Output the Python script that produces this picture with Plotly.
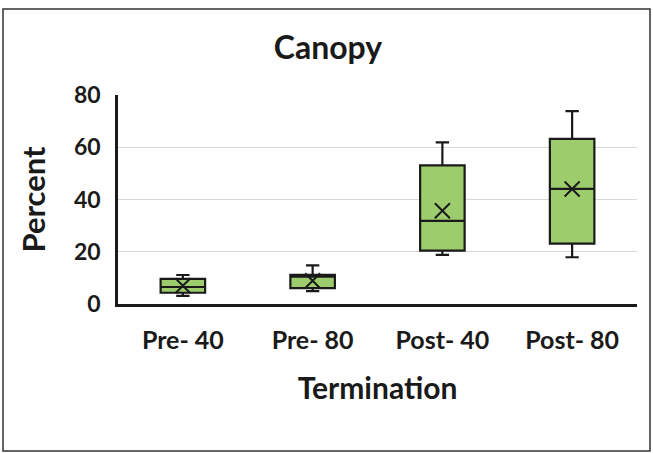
import plotly.graph_objects as go

categories = ["Pre- 40", "Pre- 80", "Post- 40", "Post- 80"]
q1 = [4.3, 6.1, 20.4, 23.1]
median = [6.5, 10.5, 31.8, 44.1]
q3 = [9.6, 11.2, 53.1, 63.2]
lower = [3.1, 4.9, 18.8, 17.9]
upper = [11.1, 14.8, 61.9, 73.8]
means = [7.0, 8.9, 35.7, 44.0]
y_ticks = [0, 20, 40, 60, 80]

FONT = "Lato"
INK = "#1a1a1a"

fig = go.Figure()
fig.add_trace(go.Box(
    x=categories, q1=q1, median=median, q3=q3,
    lowerfence=lower, upperfence=upper,
    fillcolor="#9ccc6c", line=dict(color=INK, width=2.2),
    whiskerwidth=0.3, boxpoints=False, showlegend=False,
    hoverinfo="skip",
))
fig.add_trace(go.Scatter(
    x=categories, y=means, mode="markers",
    marker=dict(symbol="x-thin", size=15, line=dict(color=INK, width=2)),
    showlegend=False, hoverinfo="skip",
))

L, R, T, B = 118, 16, 95, 149
W, H = 653, 453
pw, ph = W - L - R, H - T - B

def px(x):
    return (x - L) / pw

def py(y):
    return (H - B - y) / ph

fig.add_shape(type="rect", xref="paper", yref="paper",
              x0=px(3), x1=px(650), y0=py(451), y1=py(9),
              line=dict(color="#333333", width=1.5), layer="below")

def f(size):
    return dict(size=size, family=FONT, color=INK, weight="bold")

fig.update_layout(
    width=W, height=H,
    margin=dict(l=L, r=R, t=T, b=B),
    paper_bgcolor="white", plot_bgcolor="white",
    boxgap=0.51,
    font=dict(family=FONT, color=INK),
    title=dict(text="Canopy", x=px(328), xref="paper", xanchor="center",
               y=1 - 48 / H, yanchor="middle", font=f(32)),
    xaxis=dict(showline=True, linecolor=INK, linewidth=2.5, showgrid=False,
               tickfont=f(25), ticks="", ticklabelstandoff=12,
               title=dict(text="Termination", font=f(30), standoff=26)),
    yaxis=dict(range=[0, 80], tickvals=y_ticks, showline=True, linecolor=INK, linewidth=2.5,
               showgrid=True, gridcolor="#d8d8d8", gridwidth=1, zeroline=False, ticks="",
               tickfont=f(23), ticklabelstandoff=10,
               title=dict(text="Percent", font=f(31), standoff=20)),
)

fig.write_html("out.html", config={"displayModeBar": False},
               post_script="document.body.style.margin='0';document.body.style.overflow='hidden';")
